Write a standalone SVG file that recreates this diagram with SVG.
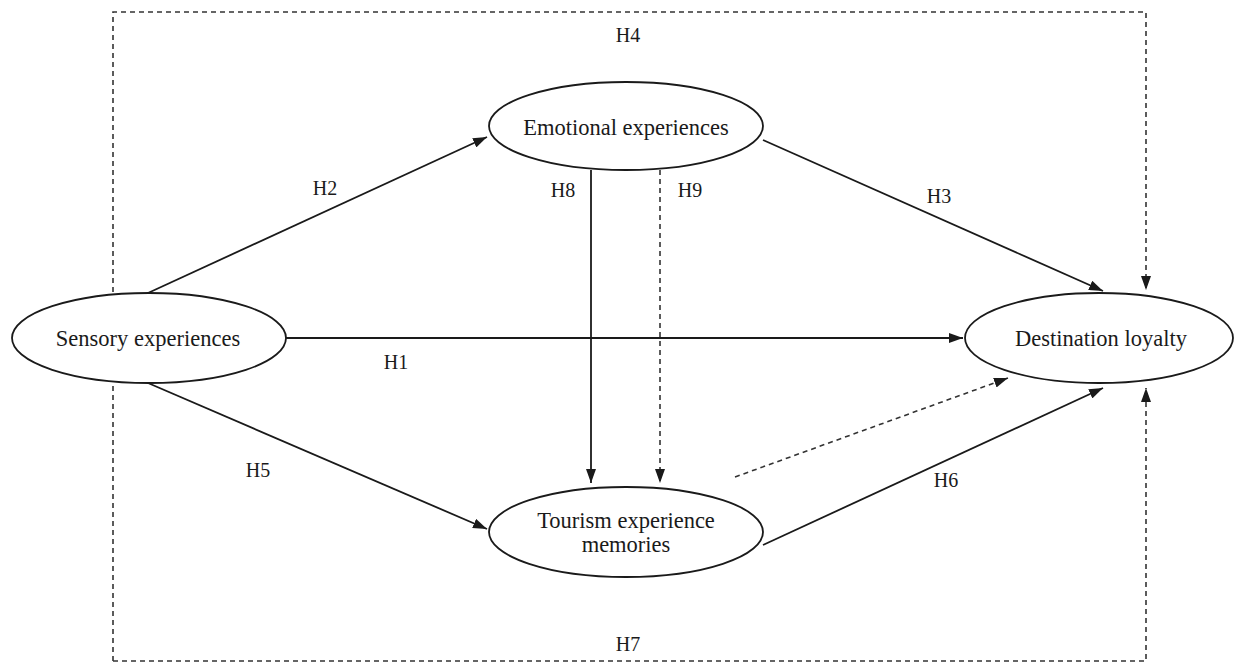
<svg xmlns="http://www.w3.org/2000/svg" width="1234" height="664" viewBox="0 0 1234 664">
<defs>
<marker id="ah" viewBox="0 0 14 10" refX="14" refY="5" markerWidth="14" markerHeight="10" markerUnits="userSpaceOnUse" orient="auto">
<path d="M0,0 L14,5 L0,10 Z" fill="#1a1a1a"/>
</marker>
</defs>
<style>
.n{fill:#fff;stroke:#1a1a1a;stroke-width:1.8}
.t{font-family:"Liberation Serif","Times New Roman",serif;font-size:22.5px;fill:#1a1a1a;text-anchor:middle}
.l{font-family:"Liberation Serif","Times New Roman",serif;font-size:20px;fill:#1a1a1a;text-anchor:middle}
.s{stroke:#1a1a1a;stroke-width:1.8;fill:none}
.d{stroke:#333;stroke-width:1.6;fill:none;stroke-dasharray:5,4}
</style>
<rect width="1234" height="664" fill="#fff"/>
<g id="connectors">
<path class="d" d="M113,661 L113,12 L1146,12 L1146,290" marker-end="url(#ah)"/>
<path class="d" d="M113,661 L1146,661 L1146,388" marker-end="url(#ah)"/>
<line class="s" x1="148" y1="293" x2="487" y2="137" marker-end="url(#ah)"/>
<line class="s" x1="763" y1="140" x2="1103" y2="291" marker-end="url(#ah)"/>
<line class="s" x1="286" y1="338" x2="963" y2="338" marker-end="url(#ah)"/>
<line class="s" x1="148" y1="383" x2="487" y2="529" marker-end="url(#ah)"/>
<line class="s" x1="763" y1="545" x2="1103" y2="388" marker-end="url(#ah)"/>
<line class="d" x1="735" y1="477" x2="1008" y2="378" marker-end="url(#ah)"/>
<line class="s" x1="591" y1="170" x2="591" y2="483" marker-end="url(#ah)"/>
<line class="d" x1="660" y1="170" x2="660" y2="483" marker-end="url(#ah)"/>
</g>
<g id="labels">
<text class="l" x="628" y="42">H4</text>
<text class="l" x="325" y="195">H2</text>
<text class="l" x="563" y="197">H8</text>
<text class="l" x="690" y="197">H9</text>
<text class="l" x="939" y="203">H3</text>
<text class="l" x="396" y="369">H1</text>
<text class="l" x="258" y="477">H5</text>
<text class="l" x="946" y="487">H6</text>
<text class="l" x="628" y="651">H7</text>
</g>
<g id="sensory">
<ellipse class="n" cx="149" cy="338" rx="137" ry="45"/>
<text class="t" x="148" y="346">Sensory experiences</text>
</g>
<g id="emotional">
<ellipse class="n" cx="626" cy="126" rx="137" ry="44"/>
<text class="t" x="626" y="135">Emotional experiences</text>
</g>
<g id="destination">
<ellipse class="n" cx="1099" cy="338" rx="134" ry="45"/>
<text class="t" x="1101" y="346">Destination loyalty</text>
</g>
<g id="tourism">
<ellipse class="n" cx="626" cy="532" rx="137" ry="45"/>
<text class="t" x="626" y="528">Tourism experience</text>
<text class="t" x="626" y="552">memories</text>
</g>
</svg>
